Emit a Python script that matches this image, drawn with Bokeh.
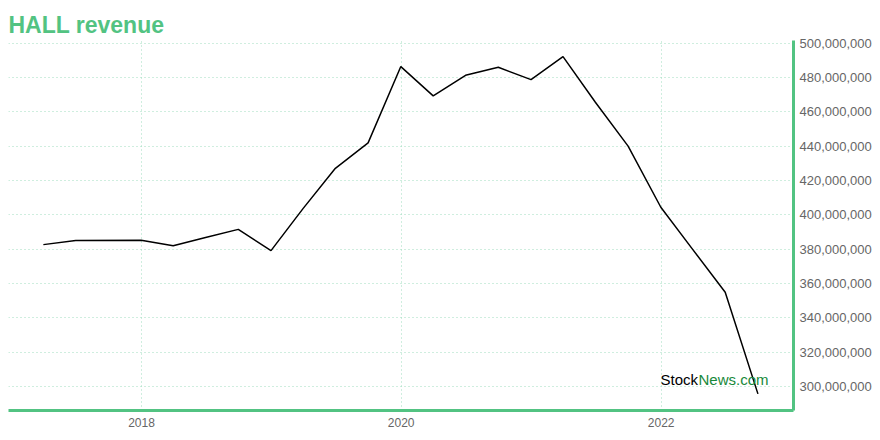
from datetime import datetime
from bokeh.plotting import figure
from bokeh.models import (Range1d, FixedTicker, DatetimeTickFormatter, NumeralTickFormatter,
                          Label, ColumnDataSource)
from bokeh.embed import file_html
from bokeh.resources import INLINE

# ---- data ----
quarter_ends = ["2017-03-31", "2017-06-30", "2017-12-31", "2018-03-31", "2018-06-30",
                "2018-09-30", "2018-12-31", "2019-03-31", "2019-06-30", "2019-09-30",
                "2019-12-31", "2020-03-31", "2020-06-30", "2020-09-30", "2020-12-31",
                "2021-03-31", "2021-06-30", "2021-09-30", "2021-12-31", "2022-03-31",
                "2022-06-30", "2022-09-30"]
revenue_millions = [382.6, 385.0, 385.1, 381.9, 386.7, 391.5, 379.1, 403.6, 427.1, 441.9,
                    486.4, 469.3, 481.3, 486.0, 478.8, 492.2, 465.6, 440.0, 404.4, 379.7,
                    354.8, 295.6]
year_ticks = [2018, 2020, 2022]
y_ticks_millions = [300, 320, 340, 360, 380, 400, 420, 440, 460, 480, 500]

dates = [datetime.strptime(d, "%Y-%m-%d") for d in quarter_ends]
revenue = [v * 1e6 for v in revenue_millions]
src = ColumnDataSource(dict(date=dates, revenue=revenue))

GREEN = "#52c382"
GRID = "#9fdcbf"

p = figure(frame_width=785, frame_height=370, x_axis_type="datetime",
           y_axis_location="right", output_backend="svg", toolbar_location=None,
           x_range=Range1d(datetime(2016, 12, 23), datetime(2023, 1, 8)),
           y_range=Range1d(285.9e6, 501.6e6),
           min_border_left=8, min_border_right=0, min_border_top=40, min_border_bottom=0)

p.title.text = "HALL revenue"
p.title.text_font = "Liberation Sans"
p.title.text_font_size = "23px"
p.title.text_font_style = "bold"
p.title.text_color = GREEN
p.title.align = "left"
p.title.offset = 0
p.title.standoff = 6

p.outline_line_color = None
p.background_fill_color = "white"
p.border_fill_color = "white"

p.line("date", "revenue", source=src, line_color="black", line_width=1.5)

# axes
xa = p.xaxis[0]
xa.ticker = FixedTicker(ticks=[datetime(y, 1, 1).timestamp() * 1000 for y in year_ticks])
xa.formatter = DatetimeTickFormatter(years="%Y", months="%Y", days="%Y", hours="%Y",
                                     minutes="%Y", seconds="%Y", milliseconds="%Y",
                                     microseconds="%Y")
ya = p.yaxis[0]
ya.ticker = FixedTicker(ticks=[v * 1e6 for v in y_ticks_millions])
ya.formatter = NumeralTickFormatter(format="0,0")

for ax in (xa, ya):
    ax.axis_line_color = GREEN
    ax.axis_line_width = 3
    ax.major_tick_line_color = None
    ax.minor_tick_line_color = None
    ax.major_tick_out = 0
    ax.major_tick_in = 0
    ax.minor_tick_out = 0
    ax.major_label_text_color = "#666666"
    ax.major_label_text_font = "Liberation Sans"
xa.major_label_text_font_size = "12px"
ya.major_label_text_font_size = "13px"
xa.major_label_standoff = 7
ya.major_label_standoff = 6

for g in (p.xgrid[0], p.ygrid[0]):
    g.grid_line_color = GRID
    g.grid_line_dash = "1 3"
    g.grid_line_width = 1

# watermark
p.add_layout(Label(x=652, y=31, x_units="screen", y_units="screen", text="Stock",
                   text_font="Liberation Sans", text_font_size="15px", text_color="black",
                   text_baseline="alphabetic"))
p.add_layout(Label(x=690, y=31, x_units="screen", y_units="screen", text="News.com",
                   text_font="Liberation Sans", text_font_size="15px", text_color="#17893a",
                   text_baseline="alphabetic"))

open("out.html", "w").write(file_html(p, INLINE))
